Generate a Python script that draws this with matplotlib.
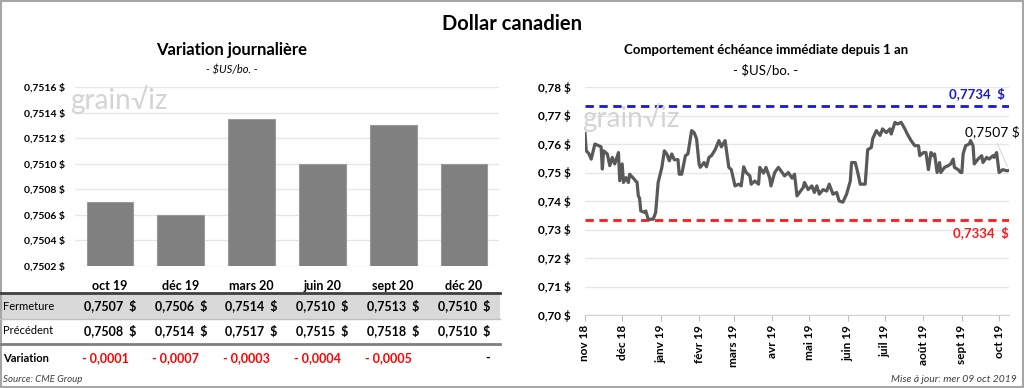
import datetime as dt
import numpy as np
import matplotlib.pyplot as plt
from matplotlib.transforms import blended_transform_factory
from matplotlib.patches import Rectangle
from matplotlib.lines import Line2D

plt.rcParams['font.family'] = ['Lato', 'DejaVu Sans']

# --- left panel data ---
months = ['oct 19', 'déc 19', 'mars 20', 'juin 20', 'sept 20', 'déc 20']
fermeture = [0.7507, 0.7506, 0.75135, 0.7510, 0.7513, 0.7510]
precedent = [0.7508, 0.7514, 0.7517, 0.7515, 0.7518, 0.7510]
variation = ['- 0,0001', '- 0,0007', '- 0,0003', '- 0,0004', '- 0,0005', '-']
bar_ticks = [0.7502, 0.7504, 0.7506, 0.7508, 0.7510, 0.7512, 0.7514, 0.7516]

# --- right panel data (days since 1 nov 2018, price) ---
start = dt.date(2018, 11, 1)
days = [0, 1, 3, 5, 8, 11, 13, 14, 15, 18, 20, 22, 24, 27, 28, 30, 31, 33, 35, 36,
        39, 42, 43, 44, 45, 48, 49, 51, 55, 57, 59, 62, 64, 66, 68, 70, 72, 75, 76, 78,
        81, 83, 86, 88, 90, 92, 93, 96, 98, 100, 102, 105, 108, 110, 113, 116, 118, 121, 124, 126,
        128, 130, 133, 134, 137, 140, 141, 144, 146, 149, 150, 153, 156, 159, 161, 164, 167, 169, 171, 173,
        176, 177, 180, 183, 185, 187, 189, 192, 195, 197, 200, 203, 205, 208, 211, 214, 215, 218, 220, 222,
        226, 228, 231, 232, 235, 238, 240, 243, 246, 247, 250, 252, 255, 258, 260, 263, 266, 269, 270, 273,
        275, 277, 279, 281, 282, 284, 286, 287, 290, 293, 295, 297, 298, 301, 303, 304, 305, 307, 310, 311,
        313, 314, 317, 320, 321, 324, 326, 329, 330, 332, 334, 337, 340, 342]
prices = [0.7637, 0.7576, 0.7567, 0.7547, 0.7600, 0.7594, 0.7590, 0.7512, 0.7576, 0.7565,
          0.7524, 0.7553, 0.7530, 0.7570, 0.7471, 0.7530, 0.7465, 0.7482, 0.7465, 0.7494,
          0.7480, 0.7465, 0.7418, 0.7410, 0.7365, 0.7360, 0.7365, 0.7336, 0.7336, 0.7360,
          0.7465, 0.7518, 0.7576, 0.7565, 0.7541, 0.7565, 0.7545, 0.7545, 0.7494, 0.7494,
          0.7559, 0.7565, 0.7647, 0.7640, 0.7618, 0.7530, 0.7518, 0.7535, 0.7520, 0.7553,
          0.7559, 0.7580, 0.7612, 0.7590, 0.7612, 0.7518, 0.7510, 0.7453, 0.7459, 0.7453,
          0.7520, 0.7500, 0.7488, 0.7459, 0.7470, 0.7459, 0.7518, 0.7498, 0.7518, 0.7480,
          0.7453, 0.7500, 0.7518, 0.7500, 0.7488, 0.7500, 0.7480, 0.7494, 0.7418, 0.7430,
          0.7447, 0.7465, 0.7440, 0.7453, 0.7430, 0.7453, 0.7424, 0.7440, 0.7435, 0.7459,
          0.7424, 0.7430, 0.7400, 0.7396, 0.7424, 0.7470, 0.7535, 0.7535, 0.7500, 0.7459,
          0.7459, 0.7580, 0.7588, 0.7618, 0.7647, 0.7630, 0.7653, 0.7640, 0.7653, 0.7635,
          0.7676, 0.7670, 0.7676, 0.7653, 0.7635, 0.7612, 0.7594, 0.7594, 0.7559, 0.7570,
          0.7570, 0.7510, 0.7570, 0.7559, 0.7565, 0.7500, 0.7535, 0.7500, 0.7518, 0.7524,
          0.7530, 0.7547, 0.7518, 0.7510, 0.7500, 0.7500, 0.7565, 0.7594, 0.7600, 0.7612,
          0.7594, 0.7530, 0.7547, 0.7559, 0.7535, 0.7553, 0.7547, 0.7559, 0.7553, 0.7570,
          0.7500, 0.7510, 0.7506, 0.7507]
high_1an = 0.7734
low_1an = 0.7334
last_price = 0.7507
month_labels = ['nov 18', 'déc 18', 'janv 19', 'févr 19', 'mars 19', 'avr 19',
                'mai 19', 'juin 19', 'juil 19', 'août 19', 'sept 19', 'oct 19']
line_ticks = [0.70, 0.71, 0.72, 0.73, 0.74, 0.75, 0.76, 0.77, 0.78]

W, H = 1024, 388
fig = plt.figure(figsize=(W / 100, H / 100), dpi=100)


def fx(px):
    return px / W


def fy(py):
    return 1 - py / H


def fr(v, n):
    # round half up, french decimal comma
    return f'{v + 1e-9:.{n}f}'.replace('.', ',')


# frame
fig.add_artist(Rectangle((0.001, 0.002), 0.998, 0.995, transform=fig.transFigure,
                         fill=False, edgecolor='#a6a6a6', lw=1.5))

fig.text(0.5, fy(24), 'Dollar canadien', ha='center', va='center',
         fontsize=14.5, fontweight='bold')

# ---------------- left: bars ----------------
ax1 = fig.add_axes([fx(74.6), fy(266), fx(499.4 - 74.6), (266 - 87) / H])
x = np.arange(len(months))
ax1.bar(x, fermeture, width=0.66, color='#808080', edgecolor='#9a9a9a', lw=0.8, zorder=2)
ax1.set_xlim(-0.5, len(months) - 0.5)
ax1.set_ylim(bar_ticks[0], bar_ticks[-1])
ax1.set_yticks(bar_ticks)
ax1.set_yticklabels([fr(v, 4) + ' $' for v in bar_ticks], fontsize=7.5, fontweight='bold')
ax1.set_xticks([])
ax1.grid(axis='y', color='#e6e6e6', lw=1, zorder=0)
ax1.tick_params(axis='y', length=0, pad=7)
for s in ax1.spines.values():
    s.set_visible(False)

fig.text(fx(232), fy(50), 'Variation journalière', ha='center', va='center',
         fontsize=12, fontweight='bold')
fig.text(fx(232), fy(70), '- $US/bo. -', ha='center', va='center',
         fontsize=8, style='italic')
fig.text(fx(70), fy(100), 'grain\u221Aiz', ha='left', va='center',
         fontsize=20, color='#d4d4d4', zorder=0)

# table under the bars
tr = blended_transform_factory(ax1.transData, fig.transFigure)
fig.add_artist(Rectangle((0, fy(319)), fx(500), (319 - 293) / H, transform=fig.transFigure,
                         facecolor='#d9d9d9', edgecolor='none', zorder=0))
fig.add_artist(Line2D([0, fx(500)], [fy(293)] * 2, transform=fig.transFigure,
                      color='#404040', lw=2))
fig.add_artist(Line2D([0, fx(500)], [fy(319)] * 2, transform=fig.transFigure,
                      color='#bfbfbf', lw=1))
fig.add_artist(Line2D([0, fx(500)], [fy(344)] * 2, transform=fig.transFigure,
                      color='#808080', lw=2))
fig.text(fx(3), fy(306), 'Fermeture', ha='left', va='center', fontsize=8)
fig.text(fx(3), fy(331), 'Précédent', ha='left', va='center', fontsize=8)
fig.text(fx(3), fy(358), 'Variation', ha='left', va='center', fontsize=8, fontweight='bold')
for i in range(len(months)):
    fig.text(x[i], fy(286), months[i], transform=tr, ha='center', va='center',
             fontsize=9, fontweight='bold')
    fig.text(x[i], fy(306), fr(fermeture[i], 4) + '  $', transform=tr, ha='center',
             va='center', fontsize=9, fontweight='bold')
    fig.text(x[i], fy(331), fr(precedent[i], 4) + '  $', transform=tr, ha='center',
             va='center', fontsize=9, fontweight='bold')
    if variation[i] == '-':
        fig.text(x[i] + 0.37, fy(358), variation[i], transform=tr, ha='right',
                 va='center', fontsize=9, fontweight='bold')
    else:
        fig.text(x[i] - 0.07, fy(358), variation[i], transform=tr, ha='center',
                 va='center', fontsize=9, fontweight='bold', color='#ff0000')
fig.text(fx(3), fy(379), 'Source: CME Group', ha='left', va='center',
         fontsize=7, style='italic', color='#404040')

# ---------------- right: line ----------------
ax2 = fig.add_axes([fx(585), fy(315), fx(1009 - 585), (315 - 87) / H])
dates = [start + dt.timedelta(days=d) for d in days]
ax2.plot(dates, prices, color='#595959', lw=2.3, zorder=3)
ax2.axhline(high_1an, color='#1a1acc', lw=2, ls=(0, (3, 2)), zorder=2)
ax2.axhline(low_1an, color='#ff1a1a', lw=2, ls=(0, (3, 2)), zorder=2)
ax2.set_xlim(start, dates[-1])
ax2.set_ylim(line_ticks[0], line_ticks[-1])
ax2.set_yticks(line_ticks)
ax2.set_yticklabels([fr(v, 2) + ' $' for v in line_ticks], fontsize=8.5, fontweight='bold')
tick_dates = [dt.date(2018 + (10 + k) // 12, (10 + k) % 12 + 1, 1) for k in range(12)]
ax2.set_xticks(tick_dates)
ax2.set_xticklabels(month_labels, rotation=90, fontsize=8.5, fontweight='bold')
ax2.grid(axis='y', color='#e6e6e6', lw=1, zorder=0)
ax2.tick_params(axis='y', length=0, pad=10)
ax2.tick_params(axis='x', length=4, color='#bfbfbf', pad=3)
for s in ['top', 'right', 'left']:
    ax2.spines[s].set_visible(False)
ax2.spines['bottom'].set_color('#d0d0d0')

ax2.annotate(fr(high_1an, 4) + '  $', (1.0, high_1an), xycoords=('axes fraction', 'data'),
             xytext=(-3, 9), textcoords='offset points', ha='right', va='center',
             fontsize=9.5, fontweight='bold', color='#1a1acc')
ax2.annotate(fr(low_1an, 4) + '  $', (1.0, low_1an), xycoords=('axes fraction', 'data'),
             xytext=(0, -9), textcoords='offset points', ha='right', va='center',
             fontsize=9.5, fontweight='bold', color='#ff1a1a')
ax2.annotate(fr(last_price, 4) + ' $', (dates[-1], last_price), xytext=(-12, 28),
             textcoords='offset points', ha='center', va='center', fontsize=10,
             arrowprops=dict(arrowstyle='-', color='#d0d0d0', lw=0.6, shrinkA=2, shrinkB=3),
             annotation_clip=False)

fig.text(fx(766), fy(50), 'Comportement échéance immédiate depuis 1 an', ha='center',
         va='center', fontsize=9.5, fontweight='bold')
fig.text(fx(766), fy(70), '- $US/bo. -', ha='center', va='center', fontsize=9.5)
fig.text(fx(582), fy(118), 'grain\u221Aiz', ha='left', va='center',
         fontsize=20, color='#d4d4d4', zorder=0)
fig.text(fx(1017), fy(379), 'Mise à jour: mer 09 oct 2019', ha='right', va='center',
         fontsize=7.5, style='italic', color='#404040')

fig.savefig('out.png', dpi=100)
